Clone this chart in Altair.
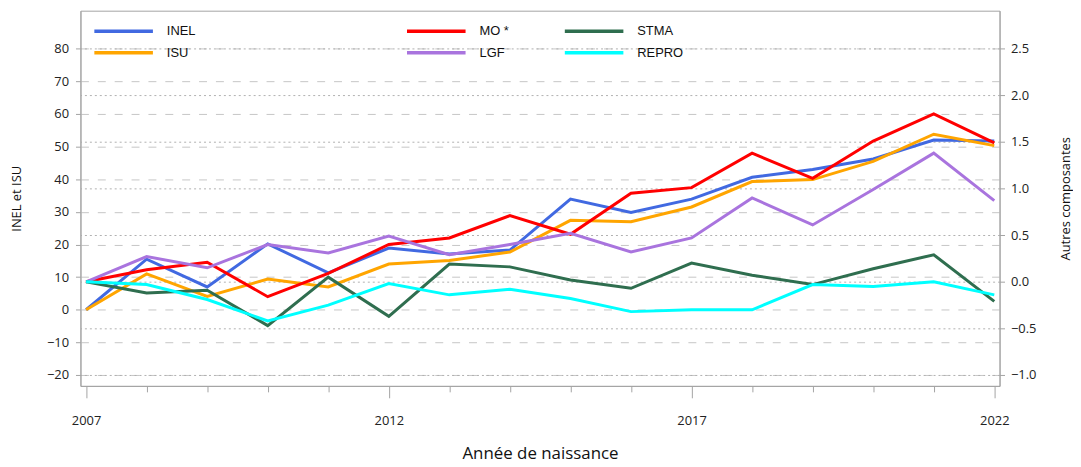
import altair as alt
import pandas as pd

years = list(range(2007, 2023))
inel = [0, 15.5, 7.0, 20.2, 11.3, 18.9, 17.1, 18.3, 33.9, 29.8, 33.9, 40.6, 43.0, 46.2, 52.0, 51.7]
isu = [0, 11.0, 4.1, 9.4, 7.0, 14.0, 15.1, 17.7, 27.4, 27.0, 31.5, 39.3, 39.9, 45.5, 53.8, 50.3]
mo = [0, 0.13, 0.21, -0.16, 0.09, 0.40, 0.47, 0.71, 0.51, 0.95, 1.01, 1.38, 1.11, 1.51, 1.80, 1.49]
lgf = [0, 0.27, 0.15, 0.40, 0.31, 0.49, 0.29, 0.40, 0.52, 0.32, 0.47, 0.90, 0.61, 0.99, 1.38, 0.87]
stma = [0, -0.12, -0.09, -0.47, 0.05, -0.37, 0.19, 0.16, 0.02, -0.07, 0.20, 0.07, -0.03, 0.14, 0.29, -0.21]
repro = [0, -0.03, -0.19, -0.42, -0.25, -0.02, -0.14, -0.08, -0.18, -0.32, -0.30, -0.30, -0.03, -0.05, 0.0, -0.14]

left_names = ["INEL", "ISU"]
left_colors = ["#4169E1", "#FFA500"]
right_names = ["MO *", "LGF", "STMA", "REPRO"]
right_colors = ["#FF0000", "#A974DE", "#2F6E4F", "#00FFFF"]

left_ticks = list(range(-20, 81, 10))
right_ticks = [-1.0, -0.5, 0.0, 0.5, 1.0, 1.5, 2.0, 2.5]

left_df = pd.DataFrame(
    [{"annee": y, "valeur": v, "serie": "INEL"} for y, v in zip(years, inel)]
    + [{"annee": y, "valeur": v, "serie": "ISU"} for y, v in zip(years, isu)]
)
right_series = {"MO *": mo, "LGF": lgf, "STMA": stma, "REPRO": repro}
right_df = pd.DataFrame(
    [{"annee": y, "valeur": v, "serie": s} for s, vals in right_series.items() for y, v in zip(years, vals)]
)

AXIS_FONT = "Open Sans"
GRAY = "#a3a3a3"

xscale = alt.Scale(domain=[2006.907, 2022.087], nice=False, zero=False)


def make_x_axis():
    return alt.Axis(
        values=years,
        format="d",
        labelExpr="datum.value % 5 == 2 ? datum.label : ''",
        tickSize={"condition": {"test": "datum.value % 5 == 2", "value": 12}, "value": 6},
        labelPadding=17,
        labelFont=AXIS_FONT,
        labelFontSize=13,
        labelColor="#222222",
        title="Année de naissance",
        titleFont=AXIS_FONT,
        titleFontSize=17,
        titleFontWeight="normal",
        titleColor="#111111",
        titleY=73,
        titleBaseline="alphabetic",
        grid=False,
        domainColor=GRAY,
        tickColor=GRAY,
    )


x_enc = alt.X("annee:Q", scale=xscale, axis=make_x_axis())

y_left = alt.Y(
    "valeur:Q",
    scale=alt.Scale(domain=[-23.33, 91.66], nice=False, zero=False),
    axis=alt.Axis(
        orient="left",
        values=left_ticks,
        format="d",
        grid=True,
        gridDash=[8, 9],
        gridColor="#c6c6c6",
        gridWidth=1,
        tickSize=5,
        labelPadding=7,
        labelFont=AXIS_FONT,
        labelFontSize=13,
        labelColor="#222222",
        title="INEL et ISU",
        titleFont=AXIS_FONT,
        titleFontSize=13,
        titleFontWeight="normal",
        titleColor="#111111",
        titleX=-64,
        titleBaseline="middle",
        domainColor=GRAY,
        tickColor=GRAY,
    ),
)
y_right = alt.Y(
    "valeur:Q",
    scale=alt.Scale(domain=[-1.1166, 2.908], nice=False, zero=False),
    axis=alt.Axis(
        orient="right",
        values=right_ticks,
        format=".1f",
        grid=True,
        gridDash=[2, 3],
        gridColor="#b0b0b0",
        gridWidth=1,
        tickSize=5,
        labelPadding=6,
        labelFont=AXIS_FONT,
        labelFontSize=13,
        labelColor="#222222",
        title="Autres composantes",
        titleFont=AXIS_FONT,
        titleFontSize=13,
        titleFontWeight="normal",
        titleColor="#111111",
        titleX=66,
        titleAngle=270,
        titleBaseline="middle",
        domainColor=GRAY,
        tickColor=GRAY,
    ),
)

legend_common = dict(
    orient="none",
    title=None,
    symbolType="stroke",
    symbolSize=3481,
    symbolStrokeWidth=3.5,
    clipHeight=16,
    rowPadding=5.6,
    labelFont="Liberation Sans",
    labelFontSize=13,
    labelColor="#111111",
    labelOffset=12,
)

c_left = alt.Color(
    "serie:N",
    scale=alt.Scale(domain=left_names, range=left_colors),
    legend=alt.Legend(legendX=12, legendY=12.7, direction="vertical", **legend_common),
)
c_right = alt.Color(
    "serie:N",
    scale=alt.Scale(domain=right_names, range=right_colors),
    legend=alt.Legend(legendX=327, legendY=12.7, columns=2, columnPadding=54, **legend_common),
)

left_layers = [
    alt.Chart(left_df)
    .transform_filter(alt.datum.serie == s)
    .mark_line(strokeWidth=3)
    .encode(x=x_enc, y=y_left, color=c_left)
    for s in left_names
]
right_layers = [
    alt.Chart(right_df)
    .transform_filter(alt.datum.serie == s)
    .mark_line(strokeWidth=3)
    .encode(x=x_enc, y=y_right, color=c_right)
    for s in right_names
]

left = alt.layer(*left_layers)
right = alt.layer(*right_layers)

chart = (
    alt.layer(left, right)
    .resolve_scale(y="independent", color="independent")
    .properties(
        width=926,
        height=378,
        padding={"left": 73, "top": 1, "right": 74, "bottom": 80},
        autosize=alt.AutoSizeParams(type="none"),
        background="white",
    )
    .configure_view(stroke=GRAY, strokeWidth=1)
)

chart.save("out.html", embed_options={"renderer": "svg", "actions": False})
